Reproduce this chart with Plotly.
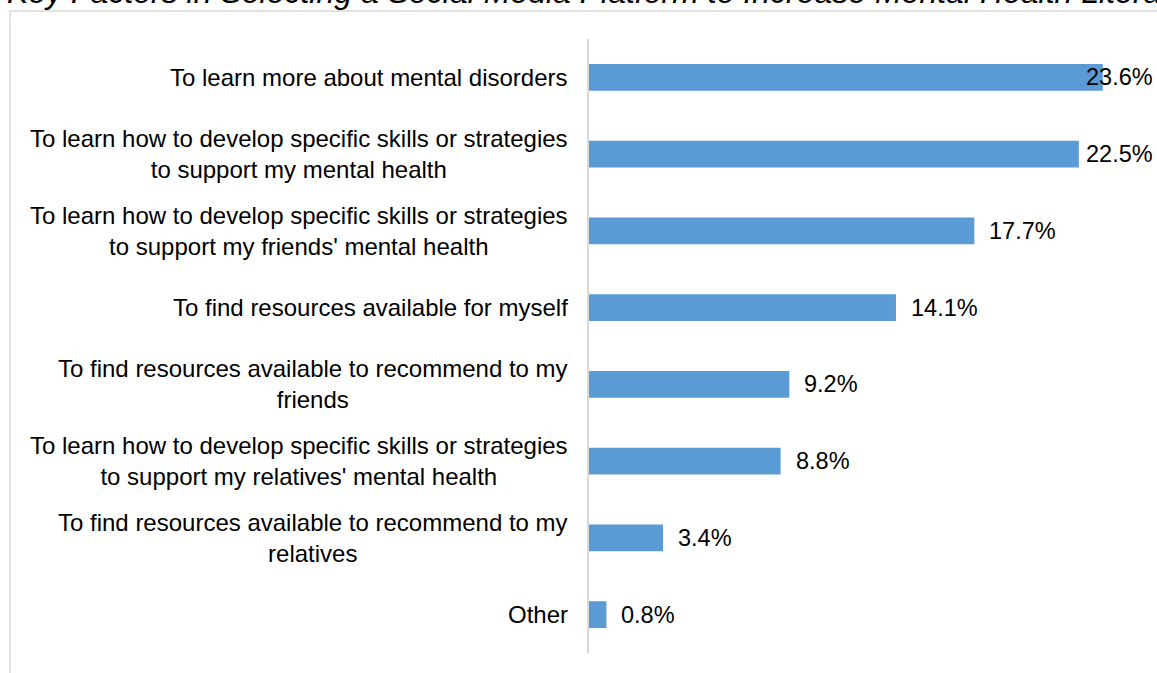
import plotly.graph_objects as go

# Survey answers, top to bottom
categories = [
    "To learn more about mental disorders",
    "To learn how to develop specific skills or strategies<br>to support my mental health",
    "To learn how to develop specific skills or strategies<br>to support my friends' mental health",
    "To find resources available for myself",
    "To find resources available to recommend to my<br>friends",
    "To learn how to develop specific skills or strategies<br>to support my relatives' mental health",
    "To find resources available to recommend to my<br>relatives",
    "Other",
]
shares = [23.6, 22.5, 17.7, 14.1, 9.2, 8.8, 3.4, 0.8]
share_labels = ["23.6%", "22.5%", "17.7%", "14.1%", "9.2%", "8.8%", "3.4%", "0.8%"]

title_text = "Key Factors in Selecting a Social Media Platform to Increase Mental Health Literacy"

FONT = "Arial, 'Liberation Sans', sans-serif"
BAR_BLUE = "#5B9BD5"
FRAME_GREY = "#D9D9D9"
CAT_SIZE = 24
VALUE_SIZE = 23.5
TITLE_SIZE = 32

W, H = 1157, 673
ML, MR, MT, MB = 589, 0, 39, 20
plot_w = W - ML - MR
plot_h = H - MT - MB
x_max = 26.09
px_per_unit = plot_w / x_max

# Arial advance widths (em) used to keep value labels inside the plot
GLYPH_EM = {d: 0.556 for d in "0123456789"}
GLYPH_EM.update({".": 0.278, "%": 0.889})


def text_px(s, size):
    return sum(GLYPH_EM.get(c, 0.556) for c in s) * size


def px_to_paper_x(px):
    return (px - ML) / plot_w


def px_to_paper_y(py):
    return (H - MB - py) / plot_h


fig = go.Figure(
    go.Bar(
        x=shares,
        y=categories,
        orientation="h",
        marker=dict(color=BAR_BLUE, line=dict(width=0)),
        width=0.35,
        hoverinfo="skip",
    )
)

annotations = []

# Category labels, centred line by line, to the left of the axis
for cat in categories:
    annotations.append(
        dict(
            x=0, y=cat, xref="x", yref="y",
            text=cat, showarrow=False,
            xanchor="right", yanchor="middle", align="center",
            xshift=-19,
            font=dict(family=FONT, size=CAT_SIZE, color="#000000"),
        )
    )

# Value labels just past each bar end, pulled back inside when they would overflow
gap = 13
for cat, val, lab in zip(categories, shares, share_labels):
    end_px = val * px_per_unit + gap + 3 + text_px(lab, VALUE_SIZE)
    if end_px <= plot_w - 2:
        ann = dict(x=val, xref="x", xanchor="left", xshift=gap)
    else:
        ann = dict(x=1, xref="paper", xanchor="right", xshift=-2)
    ann.update(
        y=cat, yref="y", yanchor="middle", text=lab, showarrow=False,
        font=dict(family=FONT, size=VALUE_SIZE, color="#000000"),
    )
    annotations.append(ann)

# Chart title
annotations.append(
    dict(
        x=px_to_paper_x(5), y=px_to_paper_y(12), xref="paper", yref="paper",
        xanchor="left", yanchor="bottom", showarrow=False,
        text=f"<i>{title_text}</i>",
        font=dict(family=FONT, size=TITLE_SIZE, color="#000000"),
    )
)

# Outer chart frame
shapes = [
    dict(
        type="rect", xref="paper", yref="paper",
        x0=px_to_paper_x(10), x1=px_to_paper_x(W + 20),
        y0=px_to_paper_y(H + 20), y1=px_to_paper_y(11),
        line=dict(color=FRAME_GREY, width=1.5),
        fillcolor="rgba(0,0,0,0)", layer="below",
    )
]

fig.update_layout(
    width=W, height=H,
    margin=dict(l=ML, r=MR, t=MT, b=MB, pad=0),
    paper_bgcolor="white", plot_bgcolor="white",
    showlegend=False,
    bargap=0.65,
    annotations=annotations,
    shapes=shapes,
    font=dict(family=FONT, color="#000000"),
)
fig.update_xaxes(
    range=[0, x_max], showgrid=False, zeroline=False,
    showticklabels=False, showline=False, ticks="",
)
fig.update_yaxes(
    type="category", range=[len(categories) - 0.5, -0.5],
    showgrid=False, zeroline=False, showticklabels=False, ticks="",
    showline=True, linecolor=FRAME_GREY, linewidth=2,
)

fig.write_html("out.html")
